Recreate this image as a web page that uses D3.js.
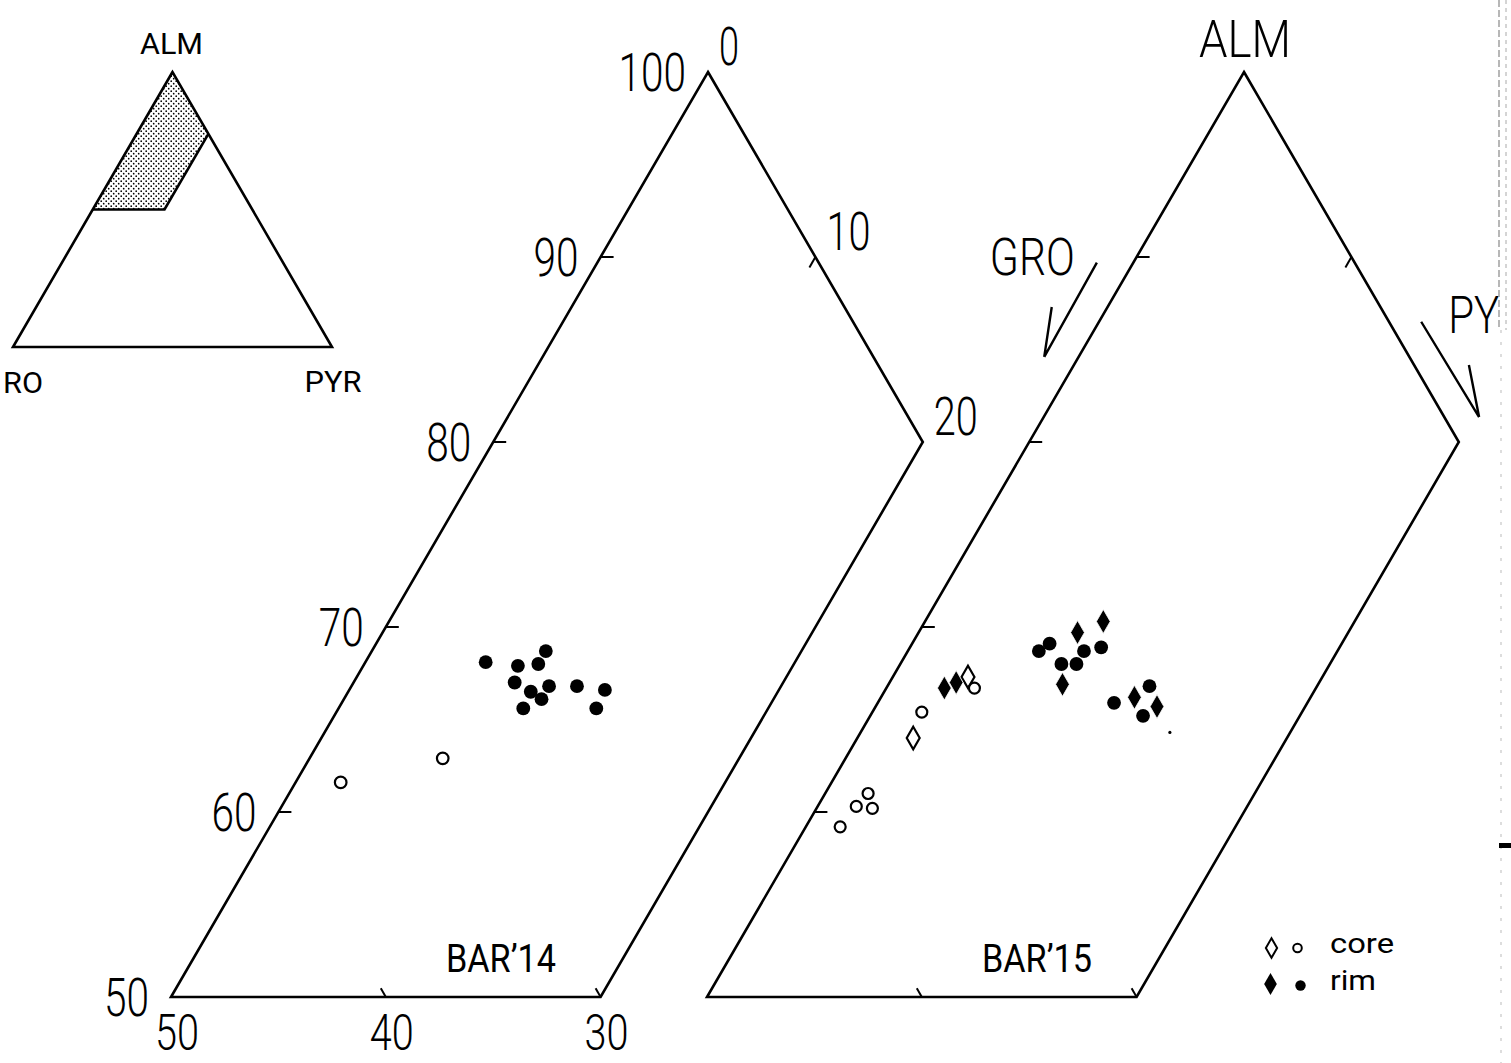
<!DOCTYPE html>
<html>
<head>
<meta charset="utf-8">
<script src="https://cdn.jsdelivr.net/npm/d3@7"></script>
<style>
  html, body { margin: 0; padding: 0; background: #fff; }
  svg { display: block; }
  text { font-family: Roboto, "DejaVu Sans", sans-serif; font-weight: 300; fill: #000; }
  text.small { font-weight: 400; }
</style>
</head>
<body>
<svg id="chart" width="1511" height="1063"></svg>
<script>
// ---------------- DATA ----------------
// Ternary garnet compositions: [ALM %, PYR %]  (GRO = 100 - ALM - PYR)
const almTicks  = [60, 70, 80, 90];
const almLabels = [100, 90, 80, 70, 60, 50];
const pyrTicks  = [10];
const pyrLabels = [0, 10, 20];
const groTicks  = [40, 30];
const groLabels = [50, 40, 30];
const panelNames = ["BAR\u201914", "BAR\u201915"];
const legendLabels = ["core", "rim"];
const insetLabels = ["ALM", "RO", "PYR"];      // inset: "GRO" is cut by the page edge
const sideLabels = ["ALM", "GRO", "PY"];        // right panel: "PYR" is cut by the page edge
const panelRegion = [[100, 0], [80, 20], [50, 20], [50, 0]];      // ALM>=50, PYR<=20
const insetRegion = [[100, 0], [77.5, 22.5], [50, 22.5], [50, 0]]; // shaded area in the inset

// BAR'14
const bar14CoreCircle = [[61.6, 2.1], [62.9, 6.2]];
const bar14RimCircle = [
  [68.1, 5.6], [67.9, 7.2], [68.7, 8.1], [68.0, 8.1], [67.0, 7.5], [66.5, 8.5],
  [66.8, 9.2], [66.1, 9.2], [65.6, 8.6], [66.8, 10.5], [66.6, 11.9], [65.6, 12.0]
];
// BAR'15
const bar15CoreDiamond = [[64.0, 2.6], [67.3, 3.5]];
const bar15CoreCircle = [[65.4, 2.3], [66.7, 4.1], [61.0, 2.0], [60.3, 1.8], [60.2, 2.6], [59.2, 1.6]];
const bar15RimDiamond = [[66.7, 2.7], [67.0, 3.1], [69.7, 7.4], [70.3, 8.3], [66.9, 8.1], [66.2, 11.8], [65.7, 13.1]];
const bar15RimCircle = [
  [68.7, 6.1], [69.1, 6.4], [68.7, 8.2], [68.9, 8.9], [68.0, 7.5], [68.0, 8.2],
  [65.9, 11.0], [66.8, 12.2], [65.2, 12.7]
];
const bar15Speck = [[64.3, 14.4]];

// Direction arrows beside the right panel: [ALM, PYR] of start, end, barb start
const groArrow = [[89.7, -1.7], [84.6, -1.6], [87.3, -2.6]];
const pyrArrow = [[86.5, 15.0], [81.35, 20.27], [84.16, 18.39]];

// ---------------- LAYOUT ----------------
const svg = d3.select("#chart");
const ink = "#000";
const LW = 2.6;

const ya = d3.scaleLinear().domain([50, 100]).range([997, 72]);
const panels = [
  { name: panelNames[0], xs: d3.scaleLinear().domain([25, 50]).range([171, 708]) },
  { name: panelNames[1], xs: d3.scaleLinear().domain([25, 50]).range([707, 1244]) }
];
const pt = (p, alm, pyr) => [p.xs(pyr + alm / 2), ya(alm)];

function addText(g, str, x, y, size, len, anchor, cls) {
  const t = g.append("text")
    .attr("x", x).attr("y", y)
    .attr("font-size", size)
    .attr("text-anchor", anchor || "start")
    .text(str);
  if (cls) t.attr("class", cls);
  if (len) t.attr("textLength", len).attr("lengthAdjust", "spacingAndGlyphs");
  return t;
}

const line = d3.line();
const dLeftEdgeDown = [-0.5, 0.866];   // along constant-PYR lines, downward
const dRightEdgeUp = [-0.5, -0.866];   // along constant-GRO lines, upward

panels.forEach((p, i) => {
  const g = svg.append("g");
  g.append("path")
    .attr("d", line(panelRegion.map(v => pt(p, v[0], v[1]))) + "Z")
    .attr("fill", "none").attr("stroke", ink).attr("stroke-width", LW)
    .attr("stroke-linejoin", "miter");
  almTicks.forEach(a => {
    const [x, y] = pt(p, a, 0);
    g.append("line").attr("x1", x).attr("y1", y).attr("x2", x + 13).attr("y2", y)
      .attr("stroke", ink).attr("stroke-width", 2);
  });
  pyrTicks.forEach(v => {
    const [x, y] = pt(p, 100 - v, v);
    g.append("line").attr("x1", x).attr("y1", y)
      .attr("x2", x + 12 * dLeftEdgeDown[0]).attr("y2", y + 12 * dLeftEdgeDown[1])
      .attr("stroke", ink).attr("stroke-width", 2);
  });
  groTicks.forEach(v => {
    const [x, y] = pt(p, 50, 50 - v);
    g.append("line").attr("x1", x).attr("y1", y)
      .attr("x2", x + 10 * dRightEdgeUp[0]).attr("y2", y + 10 * dRightEdgeUp[1])
      .attr("stroke", ink).attr("stroke-width", 2);
  });
  const [nx, ny] = pt(p, 51.35, 40.36 - 51.35 / 2);
  addText(g, p.name, nx, ny, 38, 110, "middle", "small");
});

// numeric labels on the left panel
{
  const p = panels[0];
  const g = svg.append("g");
  almLabels.forEach(a => {
    const [x, y] = pt(p, a, 0);
    const s = String(a);
    addText(g, s, x - 22, y + 19, 54, s.length * 22.5, "end");
  });
  pyrLabels.forEach(v => {
    const [x, y] = pt(p, 100 - v, v);
    const s = String(v);
    addText(g, s, x + 11, y - 7, 54, s === "0" ? 20 : s.length * 22, "start");
  });
  groLabels.forEach(v => {
    const [x, y] = pt(p, 50, 50 - v);
    const s = String(v);
    addText(g, s, x + 6, y + 53, 50, 44, "middle");
  });
}

// right panel: ALM label and direction arrows
{
  const p = panels[1];
  const g = svg.append("g");
  const [ax, ay] = pt(p, 100, 0);
  addText(g, sideLabels[0], ax + 1, ay - 15, 52, 92, "middle");

  const drawArrow = (arr) => {
    const pts = arr.map(v => pt(p, v[0], v[1]));
    g.append("path").attr("d", line([pts[0], pts[1]]) + "M" + pts[2] + "L" + pts[1])
      .attr("fill", "none").attr("stroke", ink).attr("stroke-width", 2.4)
      .attr("stroke-linejoin", "miter");
    return pts;
  };
  const ga = drawArrow(groArrow);
  addText(g, sideLabels[1], ga[0][0] - 22, ga[0][1] + 12, 52, 85, "end");
  const pa = drawArrow(pyrArrow);
  addText(g, sideLabels[2], pa[0][0] + 27, pa[0][1] + 11, 52, 51, "start");
}

// data markers
const circleFilled = (g, p, data, r) => g.selectAll(null).data(data).enter().append("circle")
  .attr("cx", d => pt(p, d[0], d[1])[0]).attr("cy", d => pt(p, d[0], d[1])[1])
  .attr("r", r).attr("fill", ink);
const circleOpen = (g, p, data, r) => g.selectAll(null).data(data).enter().append("circle")
  .attr("cx", d => pt(p, d[0], d[1])[0]).attr("cy", d => pt(p, d[0], d[1])[1])
  .attr("r", r).attr("fill", "#fff").attr("stroke", ink).attr("stroke-width", 2.2);
const diamondSym = d3.symbol(d3.symbolDiamond, 165);
const diamondSymOpen = d3.symbol(d3.symbolDiamond, 145);
const diamonds = (g, p, data, open) => g.selectAll(null).data(data).enter().append("path")
  .attr("d", open ? diamondSymOpen : diamondSym)
  .attr("transform", d => `translate(${pt(p, d[0], d[1])})`)
  .attr("fill", open ? "#fff" : ink)
  .attr("stroke", open ? ink : "#fff")
  .attr("stroke-width", open ? 2.2 : 0.8);

{
  const g = svg.append("g");
  circleOpen(g, panels[0], bar14CoreCircle, 5.8);
  circleFilled(g, panels[0], bar14RimCircle, 6.9);
}
{
  const g = svg.append("g");
  diamonds(g, panels[1], bar15CoreDiamond, true);
  circleOpen(g, panels[1], bar15CoreCircle, 5.5);
  diamonds(g, panels[1], bar15RimDiamond, false);
  circleFilled(g, panels[1], bar15RimCircle, 6.9);
  circleFilled(g, panels[1], bar15Speck, 1.6);
}

// legend
{
  const g = svg.append("g");
  g.append("path").attr("d", d3.symbol(d3.symbolDiamond, 110)())
    .attr("transform", "translate(1271.5,948)")
    .attr("fill", "#fff").attr("stroke", ink).attr("stroke-width", 2);
  g.append("circle").attr("cx", 1297.5).attr("cy", 948).attr("r", 4.3)
    .attr("fill", "#fff").attr("stroke", ink).attr("stroke-width", 2);
  addText(g, legendLabels[0], 1330, 953, 28, 64, "start", "small");
  g.append("path").attr("d", d3.symbol(d3.symbolDiamond, 140)())
    .attr("transform", "translate(1270.5,984)")
    .attr("fill", ink);
  g.append("circle").attr("cx", 1300.5).attr("cy", 985.5).attr("r", 5.2)
    .attr("fill", ink);
  addText(g, legendLabels[1], 1330, 990, 28, 46, "start", "small");
}

// inset triangle
{
  const g = svg.append("g");
  const ix = d3.scaleLinear().domain([0, 100]).range([13, 332]);
  const iy = d3.scaleLinear().domain([0, 100]).range([347, 72]);
  const ipt = (alm, pyr) => [ix(pyr + alm / 2), iy(alm)];

  const defs = svg.append("defs");
  const pat = defs.append("pattern").attr("id", "stipple")
    .attr("patternUnits", "userSpaceOnUse").attr("width", 5).attr("height", 5);
  pat.append("rect").attr("width", 5).attr("height", 5).attr("fill", "#fff");
  pat.append("circle").attr("cx", 1.2).attr("cy", 1.2).attr("r", 0.85).attr("fill", "#000");
  pat.append("circle").attr("cx", 3.7).attr("cy", 3.7).attr("r", 0.85).attr("fill", "#000");

  const reg = insetRegion.map(v => ipt(v[0], v[1]));
  g.append("path").attr("d", line(reg) + "Z").attr("fill", "url(#stipple)").attr("stroke", "none");
  g.append("path").attr("d", line([reg[1], reg[2], reg[3]]))
    .attr("fill", "none").attr("stroke", ink).attr("stroke-width", 2.6);

  const tri = [ipt(100, 0), ipt(0, 0), ipt(0, 100)];
  g.append("path").attr("d", line(tri) + "Z")
    .attr("fill", "none").attr("stroke", ink).attr("stroke-width", 2.6)
    .attr("stroke-linejoin", "miter");

  addText(g, insetLabels[0], tri[0][0] - 1, tri[0][1] - 18, 29, 63, "middle", "small");
  addText(g, insetLabels[1], tri[1][0] - 10, tri[1][1] + 46, 29, 40, "start", "small");
  addText(g, insetLabels[2], tri[2][0] + 1, tri[2][1] + 45, 29, 57, "middle", "small");
}

// scanner strip at the right margin
{
  const g = svg.append("g");
  g.append("line").attr("x1", 1499).attr("y1", 0).attr("x2", 1499).attr("y2", 330)
    .attr("stroke", "#888").attr("stroke-width", 1.2).attr("stroke-dasharray", "7,3");
  g.append("line").attr("x1", 1506).attr("y1", 0).attr("x2", 1506).attr("y2", 330)
    .attr("stroke", "#aaa").attr("stroke-width", 1).attr("stroke-dasharray", "4,4");
  g.append("line").attr("x1", 1501).attr("y1", 330).attr("x2", 1501).attr("y2", 1063)
    .attr("stroke", "#bbb").attr("stroke-width", 1).attr("stroke-dasharray", "3,9");
  g.append("rect").attr("x", 1499).attr("y", 843).attr("width", 12).attr("height", 5).attr("fill", "#000");
}
</script>
</body>
</html>
